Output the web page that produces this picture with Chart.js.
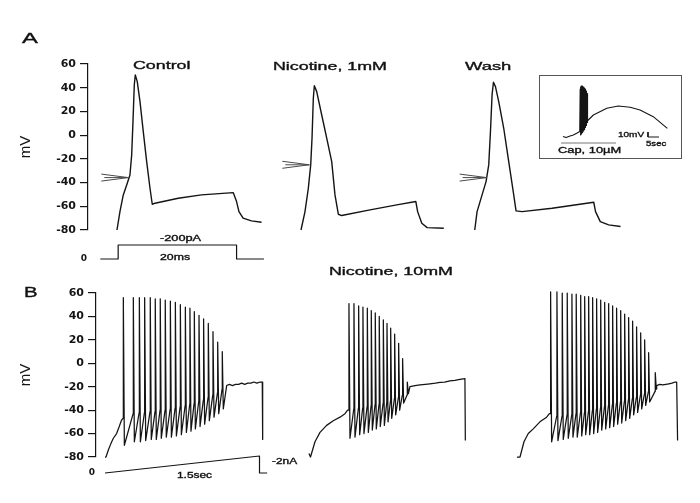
<!DOCTYPE html>
<html><head><meta charset="utf-8">
<script src="https://cdn.jsdelivr.net/npm/chart.js@4.4.1/dist/chart.umd.min.js"></script>
<style>
html,body{margin:0;padding:0;background:#fff;}
#wrap{position:relative;width:700px;height:503px;overflow:hidden;background:#fff;}
canvas{position:absolute;left:0;top:0;}
.lbl{position:absolute;font-family:'Liberation Sans',Arial,sans-serif;color:#111;white-space:nowrap;line-height:1;transform-origin:0 50%;-webkit-text-stroke:0.35px #111;}
#inset{position:absolute;left:539px;top:75px;width:143px;height:84px;border:1px solid #555;box-sizing:border-box;}
</style></head><body>
<div id="wrap">
  <div id="inset"></div>
  <canvas id="cA" width="700" height="503"></canvas>
  <canvas id="cAstim" width="700" height="503"></canvas>
  <canvas id="cInset" width="700" height="503"></canvas>
  <canvas id="cB" width="700" height="503"></canvas>
  <canvas id="cBstim" width="700" height="503"></canvas>
  <div class="lbl" style="left:22px;top:31px;font-size:14px;transform:scaleX(1.7)">A</div>
  <div class="lbl" style="left:24px;top:285px;font-size:14.5px;transform:scaleX(1.4)">B</div>
  <div class="lbl" style="left:133px;top:60px;font-size:11.5px;transform:scaleX(1.55)">Control</div>
  <div class="lbl" style="left:273px;top:61px;font-size:11.5px;transform:scaleX(1.55)">Nicotine, 1mM</div>
  <div class="lbl" style="left:465px;top:61px;font-size:11.5px;transform:scaleX(1.6)">Wash</div>
  <div class="lbl" style="left:160px;top:234px;font-size:8.5px;transform:scaleX(1.5)">-200pA</div>
  <div class="lbl" style="left:160px;top:253px;font-size:8.5px;transform:scaleX(1.45)">20ms</div>
  <div class="lbl" style="left:329px;top:266px;font-size:11.5px;transform:scaleX(1.55)">Nicotine, 10mM</div>
  <div class="lbl" style="left:177px;top:471px;font-size:8.5px;transform:scaleX(1.4)">1.5sec</div>
  <div class="lbl" style="left:272px;top:457px;font-size:8.5px;transform:scaleX(1.4)">-2nA</div>
  <div class="lbl" style="left:618px;top:131px;font-size:8px;transform:scaleX(1.25)">10mV</div>
  <div class="lbl" style="left:646px;top:140px;font-size:8px;transform:scaleX(1.2)">5sec</div>
  <div class="lbl" style="left:558px;top:146px;font-size:9px;transform:scaleX(1.43)">Cap, 10µM</div>
</div>
<script>
// ---------- Panel A: single action potentials (time ms, voltage mV) ----------
const controlT = [0, 0.5, 1.06, 1.73, 2.18, 2.47, 2.69, 2.91, 3.08, 3.41, 3.87, 4.42, 4.99, 5.55, 5.93, 6.39, 10.3, 14.2, 19.55, 20.1, 20.5, 21.2, 22.6, 24.3];
const controlV = [-80, -64.5, -50.4, -40.6, -33.6, -16.7, 11.4, 42.3, 50.8, 45.1, 28.3, 3, -22.3, -44.8, -58.3, -57.4, -53.2, -50.4, -48.5, -56, -64.5, -70, -72.3, -73.5];
const nicT = [0, 0.67, 1.23, 1.63, 1.85, 2.07, 2.24, 2.64, 3.48, 4.32, 5.16, 5.71, 6.27, 6.84, 11.6, 16.1, 19.3, 19.6, 20.3, 21.2, 24.0];
const nicV = [-80, -64.5, -44.8, -25.1, -2.6, 31.1, 41.7, 36.7, 17, -2.6, -22.3, -50.4, -66.7, -67.8, -63, -58.8, -56, -64.5, -74.3, -78, -78.5];
const washT = [0, 0.39, 1.23, 1.9, 2.35, 2.64, 2.91, 3.14, 3.48, 4.03, 4.87, 5.71, 6.55, 6.94, 7.95, 13.0, 20.0, 20.3, 21.1, 22.5, 24.5];
const washV = [-80, -64.5, -50.4, -39.2, -25.1, 3, 33.9, 44.6, 40.9, 28.2, 5.8, -22.3, -50.4, -63.9, -64.5, -61.6, -56.6, -64.5, -72.9, -75.7, -77.1];
// arrow markers (threshold), relative to each trace: [time ms, mV]
const arrowControl = [1.9, -35.8];
const arrowNic = [1.4, -25];
const arrowWash = [2.0, -35.8];
// current step (pA), relative to control onset
const stepT = [-2.8, 0.2, 0.2, 20.1, 20.1, 24.7];
const stepI = [0, 0, -200, -200, 0, 0];

// ---------- Inset: capsaicin response (time s, mV) ----------
const insetPreT = [0, 1.4, 3.2, 4.7, 6.4, 7.6];
const insetPreV = [-59, -61, -58, -56, -52, -49];
const burstT = [7.8, 8.0, 8.25, 8.45, 8.65, 8.85, 9.05, 9.3, 9.5, 9.7, 9.9, 10.1, 10.35, 10.55, 10.8, 11.1];
const burstPeak = [36, 40, 42, 42, 42, 41, 41, 40, 39, 38, 37, 36, 34, 32, 30, 27];
const burstTrough = [-56, -55, -54, -53, -51, -50, -48, -47, -45, -43, -41, -39, -37, -34, -31, -28];
const insetPostT = [11.5, 13.8, 19.9, 25.1, 30.5, 35, 41, 47.4];
const insetPostV = [-26, -16, -2.6, 2, -0.6, -6, -19.4, -42.6];
const capT = [-0.9, 24.1];
const capLevel = -72;
const scaleBarT = [38.6, 38.6, 43.6];
const scaleBarV = [-50, -60, -60];

// ---------- Panel B: spike trains during ramp (time s, mV) ----------
const pre1 = [[0,-80],[0.01,-80],[0.033,-74],[0.056,-69],[0.082,-64],[0.114,-60],[0.140,-54],[0.160,-49],[0.176,-47]];
const spikeT1 = [0.180,0.278,0.337,0.389,0.444,0.493,0.542,0.591,0.641,0.690,0.739,0.788,0.833,0.876,0.922,0.967,1.013,1.059,1.105,1.150];
const peak1 = [56,56,56,56,56,55,55,54,53,52,50,48,47,44,41,38,34,27,18,10];
const trough1 = [-70,-67,-67,-66,-65,-65,-64,-63,-63,-62,-61,-59,-58,-56,-54,-52,-49,-46,-43,-39];
const thr1 = [-47,-43,-42,-42,-41,-41,-40,-40,-39,-38,-37,-36,-35,-34,-32,-31,-29,-27,-25,-22];
const post1 = [[1.193,-19],[1.22,-18],[1.25,-19],[1.28,-18],[1.31,-18],[1.34,-17],[1.37,-18],[1.40,-17],[1.43,-17],[1.46,-16],[1.49,-17],[1.52,-16],[1.542,-16],[1.546,-65]];

const pre2 = [[0,-77],[0.015,-80],[0.059,-67],[0.108,-59],[0.173,-53],[0.238,-49],[0.304,-46],[0.353,-43],[0.379,-40]];
const spikeT2 = [0.392,0.441,0.487,0.529,0.572,0.611,0.650,0.689,0.729,0.765,0.801,0.840,0.879,0.918,0.964];
const peak2 = [51,51,49,48,47,45,43,40,37,34,30,25,17,4,-16];
const trough2 = [-64,-63,-61,-60,-59,-57,-56,-54,-53,-50,-47,-44,-40,-34,-26];
const thr2 = [-40,-39,-38,-38,-37,-36,-35,-35,-34,-33,-32,-30,-29,-27,-27];
const post2 = [[0.99,-20],[1.04,-19],[1.088,-18.5],[1.14,-18],[1.186,-17.5],[1.24,-17],[1.284,-16.3],[1.33,-16],[1.382,-15],[1.43,-14.5],[1.48,-13.7],[1.529,-13],[1.533,-66]];

const pre3 = [[0,-80],[0.03,-80],[0.069,-67],[0.111,-60],[0.16,-56],[0.225,-50],[0.291,-46],[0.318,-43]];
const spikeT3 = [0.330,0.392,0.444,0.493,0.539,0.581,0.625,0.664,0.703,0.742,0.781,0.821,0.860,0.899,0.938,0.977,1.017,1.056,1.095,1.134,1.173,1.213,1.252,1.291,1.356];
const peak3 = [61,61,60,60,59,59,58,57,57,56,55,54,52,51,49,47,45,42,39,36,31,26,20,9,-8];
const trough3 = [-67,-66,-65,-64,-63,-63,-62,-61,-61,-60,-59,-57,-56,-55,-54,-52,-51,-49,-47,-44,-42,-39,-36,-33,-22];
const thr3 = [-43,-45,-45,-44,-44,-43,-42,-42,-41,-40,-39,-38,-37,-36,-35,-34,-33,-32,-31,-30,-29,-27,-26,-24,-24];
const post3 = [[1.37,-19],[1.40,-18],[1.43,-18.5],[1.46,-18],[1.49,-17.5],[1.52,-17],[1.55,-16],[1.566,-16],[1.575,-66]];

// current ramp (nA)
const rampT = [0, 1.515, 1.515, 1.59];
const rampI = [0, -2, 0, 0];

// ---------- layout constants ----------
const INK = '#141414';
const A_X = [0, 100.84];            // ms shown across panel A
const A_OFF = {control: 4.87, nic: 35.8, wash: 65.0};
const B_X = [0, 5.804];             // s shown across panel B
const B_OFF = [0.088, 2.088, 4.127];
const VOLT_TICKS = {min: -80, max: 60, step: 20};

function pairs(ts, vs, off) { return ts.map((t, i) => ({x: t + (off || 0), y: vs[i]})); }
function spikeTrain(pre, times, peaks, troughs, thr, post, off) {
  const pts = pre.map(([t, v]) => ({x: t + off, y: v}));
  times.forEach((t, i) => {
    pts.push({x: t - 0.002 + off, y: thr[i]});
    pts.push({x: t + off, y: peaks[i]});
    pts.push({x: t + 0.01 + off, y: troughs[i]});
  });
  post.forEach(([t, v]) => pts.push({x: t + off, y: v}));
  return pts;
}
function line(data, color, width) {
  return {data, borderColor: color || INK, borderWidth: width || 1.4, borderJoinStyle: 'round', pointRadius: 0, fill: false, tension: 0, clip: false};
}
function voltAxis(axisX) {
  return {
    type: 'linear', min: VOLT_TICKS.min, max: VOLT_TICKS.max,
    afterFit: s => { s.width = axisX; },
    ticks: {stepSize: VOLT_TICKS.step, color: INK, padding: 4, font: {family: 'DejaVu Sans', size: 11, weight: 'bold'}},
    grid: {drawOnChartArea: false, drawTicks: true, tickLength: 8, color: INK, lineWidth: 1.2},
    border: {display: true, color: INK, width: 1.2},
    title: {display: true, text: 'mV', color: INK, font: {family: 'Liberation Sans', size: 15}, padding: {top: 17, bottom: 0}}
  };
}
function stimAxis(axisX, min, max) {
  return {
    type: 'linear', min, max, reverse: true,
    afterFit: s => { s.width = axisX; },
    afterBuildTicks: s => { s.ticks = [{value: 0}]; },
    ticks: {color: INK, padding: 1, font: {family: 'DejaVu Sans', size: 9, weight: 'bold'}},
    grid: {display: false, drawTicks: false},
    border: {display: false}
  };
}
const arrowPlugin = {
  id: 'arrows',
  afterDatasetsDraw(chart, args, opts) {
    if (!opts || !opts.tips) return;
    const {ctx, scales: {x, y}} = chart;
    ctx.save(); ctx.strokeStyle = '#4a4a4a'; ctx.lineWidth = 1;
    opts.tips.forEach(p => {
      const px = x.getPixelForValue(p.x), py = y.getPixelForValue(p.y);
      const L = 27, h = 3.5;
      ctx.beginPath();
      ctx.moveTo(px - L, py - h); ctx.lineTo(px, py); ctx.lineTo(px - L, py + h);
      ctx.moveTo(px - L + 3, py); ctx.lineTo(px, py);
      ctx.stroke();
    });
    ctx.restore();
  }
};
function makeChart(id, pad, xr, yAxis, datasets, extra, plugins) {
  return new Chart(document.getElementById(id), {
    type: 'line',
    data: {datasets},
    options: {
      responsive: false, animation: false, events: [], devicePixelRatio: 1,
      layout: {padding: pad},
      plugins: Object.assign({legend: {display: false}, tooltip: {enabled: false}}, extra || {}),
      scales: {x: {type: 'linear', display: false, min: xr[0], max: xr[1]}, y: yAxis}
    },
    plugins: plugins || []
  });
}

// Panel A
makeChart('cA', {left: 0, top: 64, right: 12, bottom: 273}, A_X, voltAxis(88), [
  line(pairs(controlT, controlV, A_OFF.control)),
  line(pairs(nicT, nicV, A_OFF.nic)),
  line(pairs(washT, washV, A_OFF.wash))
], {arrows: {tips: [
  {x: arrowControl[0] + A_OFF.control, y: arrowControl[1]},
  {x: arrowNic[0] + A_OFF.nic, y: arrowNic[1]},
  {x: arrowWash[0] + A_OFF.wash, y: arrowWash[1]}
]}}, [arrowPlugin]);

makeChart('cAstim', {left: 0, top: 240, right: 12, bottom: 239}, A_X, stimAxis(88, -271.4, 71.4), [
  line(pairs(stepT, stepI, A_OFF.control), INK, 1.2)
]);

// Inset
const insetTrace = pairs(insetPreT, insetPreV, 0);
burstT.forEach((t, i) => { insetTrace.push({x: t, y: burstPeak[i]}); insetTrace.push({x: t + 0.1, y: burstTrough[i]}); });
pairs(insetPostT, insetPostV, 0).forEach(p => insetTrace.push(p));
makeChart('cInset', {left: 540, top: 76, right: 19, bottom: 345}, [-10.45, 53.6],
  {type: 'linear', display: false, min: -102, max: 62}, [
  line(insetTrace, INK, 1.1),
  line(capT.map(t => ({x: t, y: capLevel})), '#777', 1.2),
  line(pairs(scaleBarT, scaleBarV, 0), INK, 1)
]);

// Panel B
makeChart('cB', {left: 0, top: 293, right: 12, bottom: 46}, B_X, voltAxis(96), [
  line(spikeTrain(pre1, spikeT1, peak1, trough1, thr1, post1, B_OFF[0]), INK, 1.25),
  line(spikeTrain(pre2, spikeT2, peak2, trough2, thr2, post2, B_OFF[1]), INK, 1.25),
  line(spikeTrain(pre3, spikeT3, peak3, trough3, thr3, post3, B_OFF[2]), INK, 1.25)
]);

makeChart('cBstim', {left: 0, top: 450, right: 12, bottom: 25}, B_X, stimAxis(96, -2.706, 0.588), [
  line(pairs(rampT, rampI, B_OFF[0]), INK, 1.2)
]);
</script>
</body></html>
